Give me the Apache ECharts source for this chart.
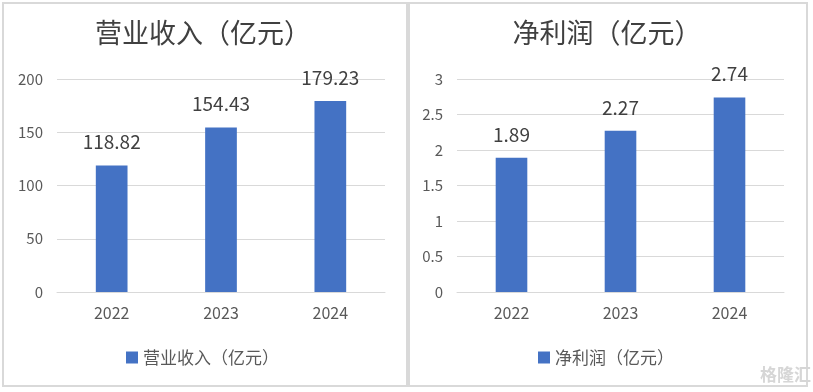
<!DOCTYPE html>
<html>
<head>
<meta charset="utf-8">
<script src="https://cdn.jsdelivr.net/npm/echarts@6/dist/echarts.min.js"></script>
<style>
html,body{margin:0;padding:0;background:#fff;}
#c{width:813px;height:392px;}
</style>
</head>
<body>
<div id="c"></div>
<script>
const categories = ['2022', '2023', '2024'];
const revenue = [118.82, 154.43, 179.23];
const netProfit = [1.89, 2.27, 2.74];
const revenueTitle = '营业收入（亿元）';
const profitTitle = '净利润（亿元）';

const FONT = '"Noto Sans CJK SC", "Noto Sans", sans-serif';
const chart = echarts.init(document.getElementById('c'));

function xAxis(idx) {
  return {
    type: 'category', gridIndex: idx, data: categories,
    axisLine: { show: true, lineStyle: { color: '#d9d9d9', width: 1 } },
    axisTick: { show: false },
    axisLabel: { color: '#595959', fontSize: 16, margin: 13, fontFamily: FONT }
  };
}
function yAxis(idx, max, interval) {
  return {
    type: 'value', gridIndex: idx, min: 0, max: max, interval: interval,
    axisLine: { show: false }, axisTick: { show: false },
    splitLine: { lineStyle: { color: '#d9d9d9', width: 1 } },
    axisLabel: { color: '#595959', fontSize: 15, margin: 14, fontFamily: FONT }
  };
}
function barSeries(name, idx, data) {
  return {
    name: name, type: 'bar', xAxisIndex: idx, yAxisIndex: idx, data: data,
    barWidth: '29%',
    itemStyle: { color: '#4472C4' },
    label: { show: true, position: 'top', distance: 14, color: '#404040', fontSize: 19, fontFamily: FONT }
  };
}

chart.setOption({
  animation: false,
  backgroundColor: '#ffffff',
  graphic: [
    { type: 'rect', shape: { x: 3, y: 3, width: 404, height: 383 }, style: { fill: 'none', stroke: '#d9d9d9', lineWidth: 2 } },
    { type: 'rect', shape: { x: 409, y: 3, width: 398, height: 383 }, style: { fill: 'none', stroke: '#d9d9d9', lineWidth: 2 } },
    { type: 'text', left: 760, top: 366, style: { text: '格隆汇', fill: '#d6d6d6', font: 'bold 17px "Noto Sans CJK SC"' } }
  ],
  title: [
    { text: revenueTitle, left: 198, top: 14, textAlign: 'center',
      textStyle: { color: '#404040', fontSize: 27, fontWeight: 'normal', fontFamily: FONT } },
    { text: profitTitle, left: 602, top: 14, textAlign: 'center',
      textStyle: { color: '#404040', fontSize: 27, fontWeight: 'normal', fontFamily: FONT } }
  ],
  legend: [
    { data: [revenueTitle], left: 121, top: 344, itemWidth: 12, itemHeight: 12, itemGap: 8, icon: 'rect',
      textStyle: { color: '#595959', fontSize: 17, fontFamily: FONT } },
    { data: [profitTitle], left: 533, top: 344, itemWidth: 12, itemHeight: 12, itemGap: 8, icon: 'rect',
      textStyle: { color: '#595959', fontSize: 17, fontFamily: FONT } }
  ],
  grid: [
    { left: 57, right: 428, top: 79, bottom: 100 },
    { left: 457, right: 29, top: 79, bottom: 100 }
  ],
  xAxis: [xAxis(0), xAxis(1)],
  yAxis: [yAxis(0, 200, 50), yAxis(1, 3, 0.5)],
  series: [barSeries(revenueTitle, 0, revenue), barSeries(profitTitle, 1, netProfit)]
});
</script>
</body>
</html>
